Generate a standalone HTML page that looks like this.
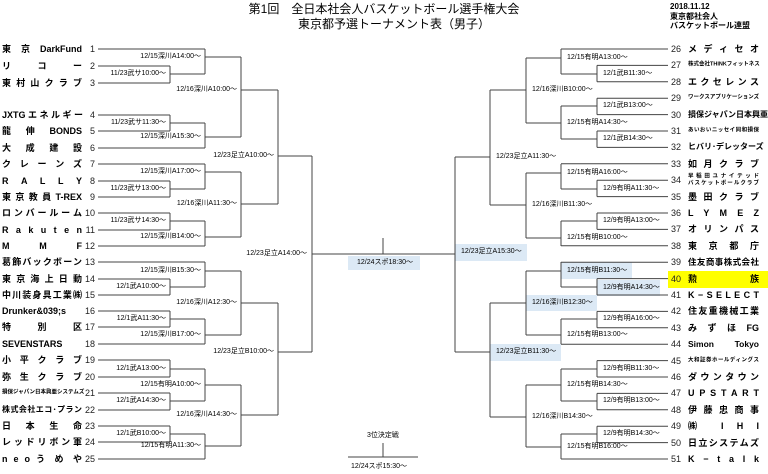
<!DOCTYPE html>
<html><head><meta charset="utf-8">
<style>
*{margin:0;padding:0;box-sizing:border-box}
body{width:768px;height:474px;background:#fff;position:relative;overflow:hidden;font-family:"Liberation Sans","Noto Sans CJK JP",sans-serif;color:#000}
.a{position:absolute}
.lb{position:absolute;font-size:7px;line-height:8px;white-space:nowrap;transform:translateY(-50%)}
.lr{text-align:right}
.bx{position:absolute;background:#dce9f5}
.tn{position:absolute;font-size:9px;font-weight:bold;line-height:12px;height:12px;white-space:nowrap;transform:translateY(-50%);text-align:justify;text-align-last:justify}
.sm{font-size:5.5px;line-height:7px;height:7px}
.nm{position:absolute;font-size:9px;line-height:10px;transform:translateY(-50%);color:#222}
.nl{right:673px;text-align:right}
.r{left:688px;width:71px}
</style></head><body>
<div class="a" style="left:0;width:768px;top:2px;text-align:center;font-size:12px;line-height:14px">第1回　全日本社会人バスケットボール選手権大会</div>
<div class="a" style="left:0;width:768px;top:17px;text-align:center;font-size:12px;line-height:14px;padding-left:20px">東京都予選トーナメント表（男子）</div>
<div class="a" style="left:670px;top:2px;font-size:8px;line-height:9.5px;font-weight:bold">2018.11.12<br>東京都社会人<br>バスケットボール連盟</div>

<div class="bx" style="left:348px;top:256px;width:72px;height:14px"></div>
<div class="bx" style="left:455px;top:244px;width:72px;height:17px"></div>
<div class="bx" style="left:561px;top:262px;width:71px;height:17px"></div>
<div class="bx" style="left:597px;top:280px;width:63px;height:16px"></div>
<div class="bx" style="left:526px;top:295px;width:71px;height:16px"></div>
<div class="bx" style="left:490px;top:344px;width:71px;height:17px"></div>
<div class="a" style="left:668px;top:271px;width:100px;height:17px;background:#ffff00"></div>

<svg class="a" style="left:0;top:0" width="768" height="474">
<g stroke="#444" stroke-width="1" fill="none">
<path d="M98 66H170M98 83H170M98 115H170M98 131H170M98 181H170M98 197H170M98 213H170M98 230H170M98 279H170M98 295H170M98 311H170M98 327H170M98 360H170M98 377H170M98 393H170M98 410H170M98 426H170M98 442H170
M98 49H205M98 148H205M98 164H205M98 246H205M98 262H205M98 344H205M98 459H205
M170 66V83M170 115V131M170 181V197M170 213V230M170 279V295M170 311V327M170 360V377M170 393V410M170 426V442
M170 74H205M170 123H205M170 189H205M170 221H205M170 287H205M170 319H205M170 369H205M170 401H205M170 434H205
M205 49V74M205 123V148M205 164V189M205 221V246M205 262V287M205 319V344M205 369V401M205 434V459
M205 57H241M205 137H241M205 172H241M205 237H241M205 271H241M205 335H241M205 385H241M205 446H241
M241 57V137M241 172V237M241 271V335M241 385V446
M241 90H278M241 204H278M241 303H278M241 415H278
M278 90V204M278 303V415M278 156H312M278 352H312M312 156V352M312 254H455M383 238V254"/>
<path d="M668 65.4H597M668 81.8H597M668 98.2H597M668 114.6H597M668 131H597M668 147.4H597M668 180.2H597M668 196.6H597M668 213H597M668 229.4H597M668 278.6H597M668 295H597M668 311.4H597M668 327.8H597M668 360.6H597M668 377H597M668 393.4H597M668 409.8H597M668 426.2H597M668 442.6H597
M668 49H561M668 163.8H561M668 245.8H561M668 262.2H561M668 344.2H561M668 459H561
M597 65.4V81.8M597 98.2V114.6M597 131V147.4M597 180.2V196.6M597 213V229.4M597 278.6V295M597 311.4V327.8M597 360.6V377M597 393.4V409.8M597 426.2V442.6
M597 74H561M597 106H561M597 139H561M597 189H561M597 221H561M597 287H561M597 319H561M597 369H561M597 401H561M597 434H561
M561 49V74M561 106V139M561 164V189M561 221V246M561 262V287M561 319V344M561 369V401M561 434V459
M561 58H526M561 123H526M561 173H526M561 238H526M561 271H526M561 335H526M561 385H526M561 447H526
M526 58V123M526 173V238M526 271V335M526 385V447
M526 90H490M526 205H490M526 303H490M526 417H490
M490 90V205M490 303V417M490 157H455M490 352H455M455 157V352
M348 457H418M383 443V457"/>
</g></svg>

<div class="lb lr" style="right:602px;top:74px">11/23武サ10:00〜</div>
<div class="lb lr" style="right:567px;top:57px">12/15深川A14:00〜</div>
<div class="lb lr" style="right:602px;top:123px">11/23武サ11:30〜</div>
<div class="lb lr" style="right:567px;top:137px">12/15深川A15:30〜</div>
<div class="lb lr" style="right:531px;top:90px">12/16深川A10:00〜</div>
<div class="lb lr" style="right:567px;top:172px">12/15深川A17:00〜</div>
<div class="lb lr" style="right:602px;top:189px">11/23武サ13:00〜</div>
<div class="lb lr" style="right:602px;top:221px">11/23武サ14:30〜</div>
<div class="lb lr" style="right:567px;top:237px">12/15深川B14:00〜</div>
<div class="lb lr" style="right:531px;top:204px">12/16深川A11:30〜</div>
<div class="lb lr" style="right:494px;top:156px">12/23足立A10:00〜</div>
<div class="lb lr" style="right:567px;top:271px">12/15深川B15:30〜</div>
<div class="lb lr" style="right:602px;top:287px">12/1武A10:00〜</div>
<div class="lb lr" style="right:602px;top:319px">12/1武A11:30〜</div>
<div class="lb lr" style="right:567px;top:335px">12/15深川B17:00〜</div>
<div class="lb lr" style="right:531px;top:303px">12/16深川A12:30〜</div>
<div class="lb lr" style="right:602px;top:369px">12/1武A13:00〜</div>
<div class="lb lr" style="right:567px;top:385px">12/15有明A10:00〜</div>
<div class="lb lr" style="right:602px;top:401px">12/1武A14:30〜</div>
<div class="lb lr" style="right:602px;top:434px">12/1武B10:00〜</div>
<div class="lb lr" style="right:567px;top:446px">12/15有明A11:30〜</div>
<div class="lb lr" style="right:531px;top:415px">12/16深川A14:30〜</div>
<div class="lb lr" style="right:494px;top:352px">12/23足立B10:00〜</div>
<div class="lb lr" style="right:461px;top:254px">12/23足立A14:00〜</div>
<div class="lb" style="left:357px;top:263px">12/24スポ18:30〜</div>
<div class="lb" style="left:367px;top:436px">3位決定戦</div>
<div class="lb" style="left:351px;top:467px">12/24スポ15:30〜</div>

<div class="lb" style="left:567px;top:58px">12/15有明A13:00〜</div>
<div class="lb" style="left:603px;top:74px">12/1武B11:30〜</div>
<div class="lb" style="left:532px;top:90px">12/16深川B10:00〜</div>
<div class="lb" style="left:603px;top:106px">12/1武B13:00〜</div>
<div class="lb" style="left:567px;top:123px">12/15有明A14:30〜</div>
<div class="lb" style="left:603px;top:139px">12/1武B14:30〜</div>
<div class="lb" style="left:496px;top:157px">12/23足立A11:30〜</div>
<div class="lb" style="left:567px;top:173px">12/15有明A16:00〜</div>
<div class="lb" style="left:603px;top:189px">12/9有明A11:30〜</div>
<div class="lb" style="left:532px;top:205px">12/16深川B11:30〜</div>
<div class="lb" style="left:603px;top:221px">12/9有明A13:00〜</div>
<div class="lb" style="left:567px;top:238px">12/15有明B10:00〜</div>
<div class="lb" style="left:461px;top:252px">12/23足立A15:30〜</div>
<div class="lb" style="left:567px;top:271px">12/15有明B11:30〜</div>
<div class="lb" style="left:603px;top:288px">12/9有明A14:30〜</div>
<div class="lb" style="left:532px;top:303px">12/16深川B12:30〜</div>
<div class="lb" style="left:603px;top:319px">12/9有明A16:00〜</div>
<div class="lb" style="left:567px;top:335px">12/15有明B13:00〜</div>
<div class="lb" style="left:496px;top:352px">12/23足立B11:30〜</div>
<div class="lb" style="left:603px;top:369px">12/9有明B11:30〜</div>
<div class="lb" style="left:567px;top:385px">12/15有明B14:30〜</div>
<div class="lb" style="left:603px;top:401px">12/9有明B13:00〜</div>
<div class="lb" style="left:532px;top:417px">12/16深川B14:30〜</div>
<div class="lb" style="left:603px;top:434px">12/9有明B14:30〜</div>
<div class="lb" style="left:567px;top:447px">12/15有明B16:00〜</div>

<div class="tn" style="left:2px;width:80px;top:49px">東 京 DarkFund</div><div class="nm nl" style="top:49px">1</div>
<div class="tn" style="left:2px;width:80px;top:66px">リ コ ー</div><div class="nm nl" style="top:66px">2</div>
<div class="tn" style="left:2px;width:80px;top:83px">東 村 山 ク ラ ブ</div><div class="nm nl" style="top:83px">3</div>
<div class="tn" style="left:2px;width:80px;top:115px">JXTG エ ネ ル ギ ー</div><div class="nm nl" style="top:115px">4</div>
<div class="tn" style="left:2px;width:80px;top:131px">龍 伸 BONDS</div><div class="nm nl" style="top:131px">5</div>
<div class="tn" style="left:2px;width:80px;top:148px">大 成 建 設</div><div class="nm nl" style="top:148px">6</div>
<div class="tn" style="left:2px;width:80px;top:164px">ク レ ー ン ズ</div><div class="nm nl" style="top:164px">7</div>
<div class="tn" style="left:2px;width:80px;top:181px">R A L L Y</div><div class="nm nl" style="top:181px">8</div>
<div class="tn" style="left:2px;width:80px;top:197px">東 京 教 員 T-REX</div><div class="nm nl" style="top:197px">9</div>
<div class="tn" style="left:2px;width:80px;top:213px">ロ ン バ ー ル ー ム</div><div class="nm nl" style="top:213px">10</div>
<div class="tn" style="left:2px;width:80px;top:230px">R a k u t e n</div><div class="nm nl" style="top:230px">11</div>
<div class="tn" style="left:2px;width:80px;top:246px">M M F</div><div class="nm nl" style="top:246px">12</div>
<div class="tn" style="left:2px;width:80px;top:262px">葛飾バックボーン</div><div class="nm nl" style="top:262px">13</div>
<div class="tn" style="left:2px;width:80px;top:279px">東 京 海 上 日 動</div><div class="nm nl" style="top:279px">14</div>
<div class="tn" style="left:2px;width:80px;top:295px">中川装身具工業㈱</div><div class="nm nl" style="top:295px">15</div>
<div class="tn" style="left:2px;width:80px;top:311px">Drunker&amp;039;s</div><div class="nm nl" style="top:311px">16</div>
<div class="tn" style="left:2px;width:80px;top:327px">特 別 区</div><div class="nm nl" style="top:327px">17</div>
<div class="tn" style="left:2px;width:80px;top:344px">SEVENSTARS</div><div class="nm nl" style="top:344px">18</div>
<div class="tn" style="left:2px;width:80px;top:360px">小 平 ク ラ ブ</div><div class="nm nl" style="top:360px">19</div>
<div class="tn" style="left:2px;width:80px;top:377px">弥 生 ク ラ ブ</div><div class="nm nl" style="top:377px">20</div>
<div class="tn sm" style="left:2px;width:76px;top:393px">損保ジャパン日本興亜システムズ</div><div class="nm nl" style="top:393px">21</div>
<div class="tn" style="left:2px;width:80px;top:410px;font-size:8px">株式会社エコ･プラン</div><div class="nm nl" style="top:410px">22</div>
<div class="tn" style="left:2px;width:80px;top:426px">日 本 生 命</div><div class="nm nl" style="top:426px">23</div>
<div class="tn" style="left:2px;width:80px;top:442px">レ ッ ド リ ボ ン 軍</div><div class="nm nl" style="top:442px">24</div>
<div class="tn" style="left:2px;width:80px;top:459px">n e o う め や</div><div class="nm nl" style="top:459px">25</div>

<div class="nm" style="left:671px;top:49px">26</div><div class="tn r" style="top:49px">メ デ ィ セ オ</div>
<div class="nm" style="left:671px;top:65.4px">27</div><div class="tn sm r" style="top:65.4px">株式会社THINKフィットネス</div>
<div class="nm" style="left:671px;top:81.8px">28</div><div class="tn r" style="top:81.8px">エ ク セ レ ン ス</div>
<div class="nm" style="left:671px;top:98.2px">29</div><div class="tn sm r" style="top:98.2px">ワークスアプリケーションズ</div>
<div class="nm" style="left:671px;top:114.6px">30</div><div class="tn r" style="top:114.6px;font-size:8px">損保ジャパン日本興亜</div>
<div class="nm" style="left:671px;top:131px">31</div><div class="tn sm r" style="top:131px">あいおいニッセイ同和損保</div>
<div class="nm" style="left:671px;top:147.4px">32</div><div class="tn r" style="top:147.4px;font-size:8px">ヒバリ･デレッターズ</div>
<div class="nm" style="left:671px;top:163.8px">33</div><div class="tn r" style="top:163.8px">如 月 ク ラ ブ</div>
<div class="nm" style="left:671px;top:180.2px">34</div><div class="tn sm r" style="top:177px">早 稲 田 ユ ナ イ テ ッ ド</div><div class="tn sm r" style="top:184px">バスケットボールクラブ</div>
<div class="nm" style="left:671px;top:196.6px">35</div><div class="tn r" style="top:196.6px">墨 田 ク ラ ブ</div>
<div class="nm" style="left:671px;top:213px">36</div><div class="tn r" style="top:213px">L Y M E Z</div>
<div class="nm" style="left:671px;top:229.4px">37</div><div class="tn r" style="top:229.4px">オ リ ン パ ス</div>
<div class="nm" style="left:671px;top:245.8px">38</div><div class="tn r" style="top:245.8px">東 京 都 庁</div>
<div class="nm" style="left:671px;top:262.2px">39</div><div class="tn r" style="top:262.2px;font-size:8.5px">住友商事株式会社</div>
<div class="nm" style="left:671px;top:278.6px">40</div><div class="tn r" style="top:278.6px">勲 族</div>
<div class="nm" style="left:671px;top:295px">41</div><div class="tn r" style="top:295px">K − S E L E C T</div>
<div class="nm" style="left:671px;top:311.4px">42</div><div class="tn r" style="top:311.4px">住友重機械工業</div>
<div class="nm" style="left:671px;top:327.8px">43</div><div class="tn r" style="top:327.8px">み ず ほ FG</div>
<div class="nm" style="left:671px;top:344.2px">44</div><div class="tn r" style="top:344.2px;font-size:8.5px">Simon Tokyo</div>
<div class="nm" style="left:671px;top:360.6px">45</div><div class="tn sm r" style="top:360.6px">大和証券ホールディングス</div>
<div class="nm" style="left:671px;top:377px">46</div><div class="tn r" style="top:377px">ダ ウ ン タ ウ ン</div>
<div class="nm" style="left:671px;top:393.4px">47</div><div class="tn r" style="top:393.4px">U P S T A R T</div>
<div class="nm" style="left:671px;top:409.8px">48</div><div class="tn r" style="top:409.8px">伊 藤 忠 商 事</div>
<div class="nm" style="left:671px;top:426.2px">49</div><div class="tn r" style="top:426.2px">㈱ I H I</div>
<div class="nm" style="left:671px;top:442.6px">50</div><div class="tn r" style="top:442.6px">日立システムズ</div>
<div class="nm" style="left:671px;top:459px">51</div><div class="tn r" style="top:459px">K − t a l k</div>
</body></html>
